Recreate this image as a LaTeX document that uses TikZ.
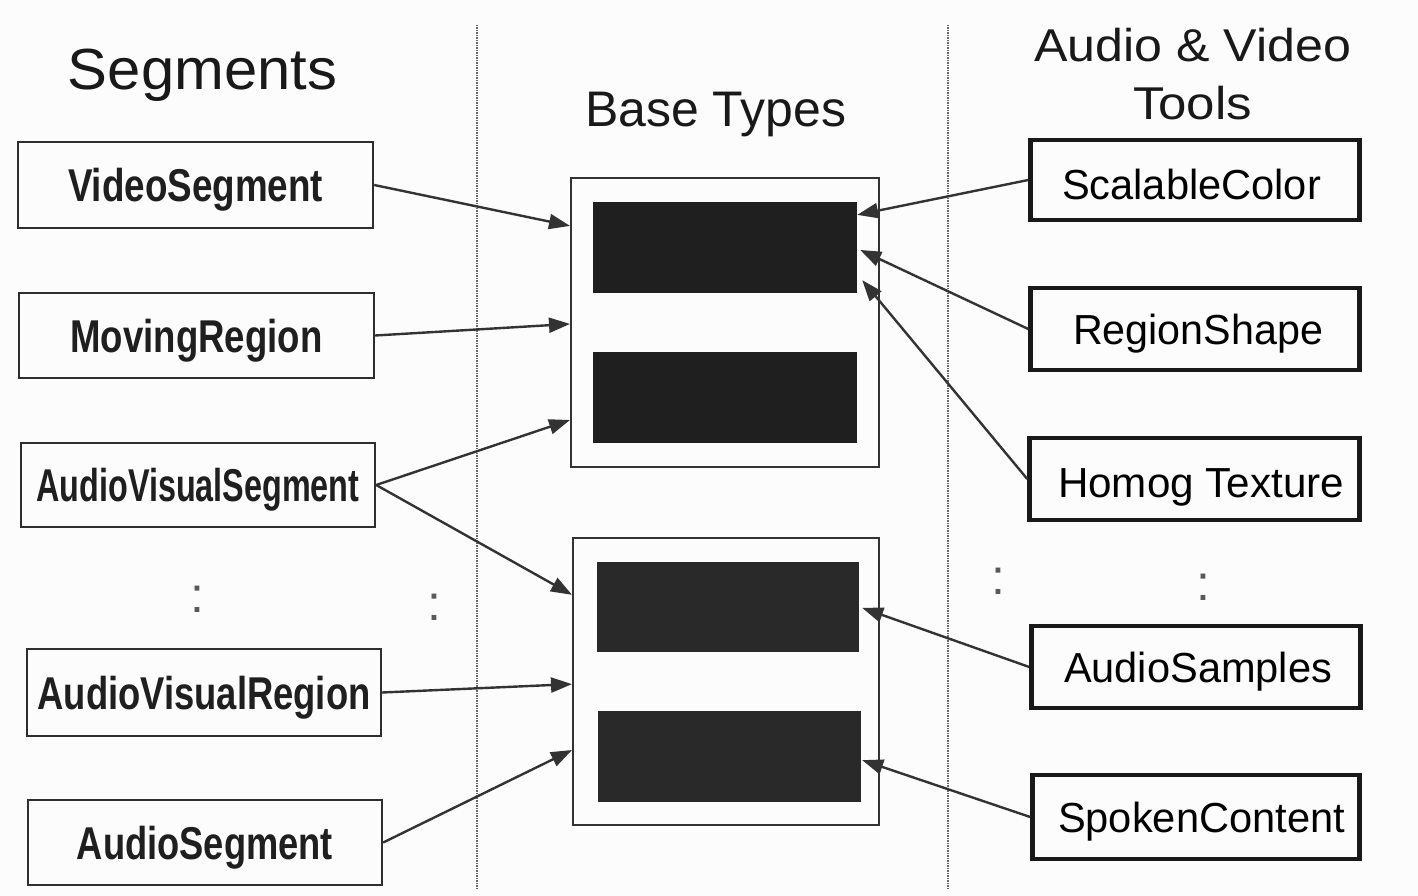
\documentclass[tikz,border=0pt]{standalone}
\usepackage{fontspec}
\setmainfont{Liberation Sans}
\usepackage{graphicx}
\usetikzlibrary{arrows.meta,calc}

% set a label to a given width, keeping its natural height
\newcommand\fitto[2]{\resizebox{#1pt}{\height}{#2}}

\begin{document}
\begin{tikzpicture}[x=1pt,y=-1pt,
  segbox/.style={draw=black!82, line width=2.4pt, inner sep=0pt,
    text height=33pt, text depth=0pt, text=black!88,
    font=\fontsize{46}{46}\selectfont\bfseries},
  toolbox/.style={draw=black!90, line width=4.5pt, inner sep=0pt,
    text height=30pt, text depth=0pt, text=black,
    font=\fontsize{42}{42}\selectfont},
  groupbox/.style={draw=black!80, line width=2pt, inner sep=0pt},
  typebox/.style={fill=black!88, draw=none, inner sep=0pt},
  link/.style={draw=black!80, line width=2.4pt,
    -{Triangle[length=21pt,width=15pt]}},
  divider/.style={draw=black!60, line width=1.4pt, dash pattern=on 1.5pt off 1pt},
  heading/.style={anchor=base, inner sep=0pt, text=black!90},
  ellipsis/.style={inner sep=0pt, text=black!65, font=\fontsize{50}{50}\selectfont}
]
\useasboundingbox[fill=black!1] (0,0) rectangle (1418,896);

% column dividers
\draw[divider] (477,25) -- (477,890);
\draw[divider] (948,25) -- (948,890);

% column headings
\node[heading, font=\fontsize{58}{58}\selectfont] (hseg) at (202.5,90) {\fitto{269}{Segments}};
\node[heading, font=\fontsize{50}{50}\selectfont] (hbase) at (715.5,127) {\fitto{261}{Base Types}};
\node[heading, font=\fontsize{46}{46}\selectfont] (haud) at (1192.5,62) {\fitto{317}{Audio \& Video}};
\node[heading, font=\fontsize{46}{46}\selectfont] (htools) at (1192.5,120) {\fitto{119}{Tools}};

% segment descriptions
\node[segbox, minimum width=355pt, minimum height=86pt] (vs)  at (195.5,185)   {\fitto{255}{VideoSegment}};
\node[segbox, minimum width=355pt, minimum height=85pt] (mr)  at (196.5,335.5) {\fitto{252}{MovingRegion}};
\node[segbox, minimum width=354pt, minimum height=84pt] (avs) at (198,485)     {\fitto{323}{AudioVisualSegment}};
\node[segbox, minimum width=354pt, minimum height=87pt] (avr) at (204,692.5)   {\fitto{333}{AudioVisualRegion}};
\node[segbox, minimum width=354pt, minimum height=85pt] (aseg) at (205,842.5)  {\fitto{256}{AudioSegment}};

% base types
\node[groupbox, minimum width=308pt, minimum height=289pt] (bt1) at (725,322.5) {};
\node[typebox, minimum width=264pt, minimum height=91pt] (k1) at (725,247.5) {};
\node[typebox, minimum width=264pt, minimum height=91pt] (k2) at (725,397.5) {};
\node[groupbox, minimum width=306pt, minimum height=287pt] (bt2) at (726,681.5) {};
\node[typebox, fill=black!84, minimum width=262pt, minimum height=90pt] (k3) at (728,607) {};
\node[typebox, fill=black!84, minimum width=263pt, minimum height=91pt] (k4) at (729.5,756.5) {};

% audio and video tools
\node[toolbox, text height=40pt, minimum width=329pt, minimum height=80pt] (sc) at (1195,180) {\fitto{259}{ScalableColor}\hspace*{7pt}};
\node[toolbox, minimum width=329pt, minimum height=82pt] (rs)   at (1195,329)   {\hspace*{6pt}\fitto{250}{RegionShape}};
\node[toolbox, text height=36pt, minimum width=330pt, minimum height=82pt] (ht) at (1194.5,479) {\hspace*{13pt}\fitto{286}{Homog Texture}};
\node[toolbox, minimum width=329pt, minimum height=82pt] (asmp) at (1196,667)   {\hspace*{4pt}\fitto{268}{AudioSamples}};
\node[toolbox, minimum width=327pt, minimum height=84pt] (sp)   at (1196,817)   {\hspace*{11pt}\fitto{287}{SpokenContent}};

% continuation marks
\node[ellipsis] (d1) at (197,599.5) {:};
\node[ellipsis] (d2) at (434,607.5) {:};
\node[ellipsis] (d3) at (998,581) {:};
\node[ellipsis] (d4) at (1203,587.5) {:};

% segments to base types
\draw[link] (vs.east)  -- ($(bt1.north west)!0.168!(bt1.south west)$);
\draw[link] (mr.east)  -- ($(bt1.north west)!0.505!(bt1.south west)$);
\draw[link] (avs.east) -- ($(bt1.north west)!0.835!(bt1.south west)$);
\draw[link] (avs.east) -- ($(bt2.north west)!0.20!(bt2.south west)$);
\draw[link] (avr.east) -- ($(bt2.north west)!0.509!(bt2.south west)$);
\draw[link] (aseg.east) -- ($(bt2.north west)!0.737!(bt2.south west)$);

% tools to base types
\draw[link] (sc.west)   -- ($(k1.north east)!0.143!(k1.south east)$);
\draw[link] (rs.west)   -- ($(k1.north east)!0.527!(k1.south east)+(3,0)$);
\draw[link] (ht.west)   -- ($(k1.north east)!0.857!(k1.south east)+(5,0)$);
\draw[link] (asmp.west) -- ($(k3.north east)!0.51!(k3.south east)+(3,0)$);
\draw[link] (sp.west)   -- ($(k4.north east)!0.54!(k4.south east)+(1,0)$);
\end{tikzpicture}
\end{document}
